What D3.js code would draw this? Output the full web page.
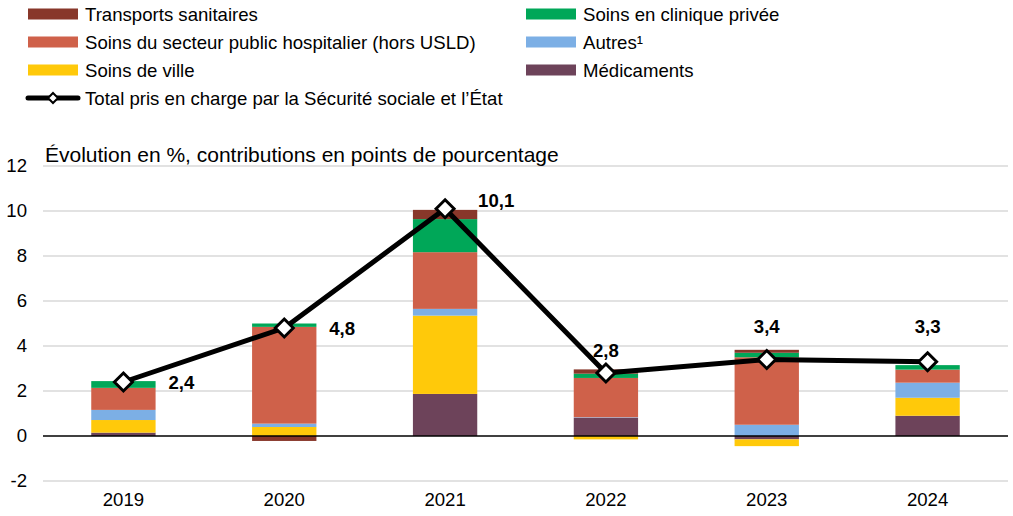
<!DOCTYPE html>
<html>
<head>
<meta charset="utf-8">
<script src="https://cdn.jsdelivr.net/npm/d3@7"></script>
<style>
  body { margin: 0; background: #fff; }
  text { font-family: "Liberation Sans", Arial, sans-serif; fill: #000; }
</style>
</head>
<body>
<svg id="chart" width="1013" height="516"></svg>
<script>
// data (contributions in percentage points)
const years = ['2019', '2020', '2021', '2022', '2023', '2024'];
const medicaments = [0.15, 0, 1.87, 0.8, -0.15, 0.9];
const soinsVille = [0.56, 0.4, 3.48, -0.15, -0.3, 0.8];
const autres = [0.45, 0.15, 0.3, 0.03, 0.5, 0.67];
const secteurPublic = [0.98, 4.3, 2.52, 1.75, 3.0, 0.58];
const clinique = [0.3, 0.15, 1.47, 0.19, 0.2, 0.2];
const transports = [0, -0.22, 0.41, 0.19, 0.13, 0];
const total = [2.4, 4.8, 10.1, 2.8, 3.4, 3.3];
const yTicks = [-2, 0, 2, 4, 6, 8, 10, 12];

// series in stacking order (bottom to top)
const series = [
  {key: 'med', name: 'Médicaments', color: '#6d435a', values: medicaments},
  {key: 'ville', name: 'Soins de ville', color: '#ffc90a', values: soinsVille},
  {key: 'autres', name: 'Autres¹', color: '#7cafe5', values: autres},
  {key: 'public', name: 'Soins du secteur public hospitalier (hors USLD)', color: '#cf614a', values: secteurPublic},
  {key: 'clinique', name: 'Soins en clinique privée', color: '#00a758', values: clinique},
  {key: 'transports', name: 'Transports sanitaires', color: '#88372a', values: transports}
];

// legend layout (reading order, two columns)
const legendOrder = ['transports', 'clinique', 'public', 'autres', 'ville', 'med'];
// where each total label sits relative to its point
const labelOffsets = [[45, 0], [45, 0], [33, -8], [0, -23], [0, -33], [0, -35]];

const svg = d3.select('#chart');
const margin = {left: 43, right: 5, top: 166, bottom: 35};
const width = 1013, height = 516;
const fontSize = '18.6px';

const table = years.map((y, i) => {
  const row = {year: y};
  series.forEach(s => row[s.key] = s.values[i]);
  return row;
});

const stack = d3.stack()
    .keys(series.map(s => s.key))
    .offset(d3.stackOffsetDiverging);
const stacked = stack(table);

const xScale = d3.scaleBand()
    .domain(years)
    .range([margin.left, width - margin.right])
    .paddingInner(0.6)
    .paddingOuter(0.3);

const yScale = d3.scaleLinear()
    .domain([-2, 12])
    .range([481, 166]);

// gridlines
svg.append('g')
  .selectAll('line')
  .data(yTicks.filter(d => d !== 0))
  .join('line')
    .attr('x1', margin.left)
    .attr('x2', width - margin.right)
    .attr('y1', d => yScale(d))
    .attr('y2', d => yScale(d))
    .attr('stroke', '#d9d9d9')
    .attr('stroke-width', 1.5);

// y axis labels
const yAxis = d3.axisLeft(yScale).tickValues(yTicks).tickSize(0).tickPadding(0)
    .tickFormat(d => d < 0 ? '-' + Math.abs(d) : d);
const yAxisG = svg.append('g')
    .attr('transform', 'translate(27,0)')
    .call(yAxis);
yAxisG.select('.domain').remove();
yAxisG.selectAll('text')
    .style('font-size', fontSize)
    .attr('fill', '#000');

// x axis labels
const xAxis = d3.axisBottom(xScale).tickSize(0).tickPadding(0);
const xAxisG = svg.append('g')
    .attr('transform', 'translate(0,493)')
    .call(xAxis);
xAxisG.select('.domain').remove();
xAxisG.selectAll('text')
    .style('font-size', fontSize)
    .attr('fill', '#000');

// stacked bars
svg.append('g')
  .selectAll('g')
  .data(stacked)
  .join('g')
    .attr('fill', d => series.find(s => s.key === d.key).color)
  .selectAll('rect')
  .data(d => d)
  .join('rect')
    .attr('x', d => xScale(d.data.year))
    .attr('width', xScale.bandwidth())
    .attr('y', d => yScale(Math.max(d[0], d[1])))
    .attr('height', d => Math.abs(yScale(d[0]) - yScale(d[1])));

// zero line
svg.append('line')
    .attr('x1', margin.left)
    .attr('x2', width - margin.right)
    .attr('y1', yScale(0))
    .attr('y2', yScale(0))
    .attr('stroke', '#000')
    .attr('stroke-width', 1.5);

// total line
const cx = y => xScale(y) + xScale.bandwidth() / 2;
const line = d3.line()
    .x((d, i) => cx(years[i]))
    .y(d => yScale(d));

svg.append('path')
    .datum(total)
    .attr('d', line)
    .attr('fill', 'none')
    .attr('stroke', '#000')
    .attr('stroke-width', 5)
    .attr('stroke-linejoin', 'round');

const diamond = r => `M0,${-r}L${r},0L0,${r}L${-r},0Z`;

svg.append('g')
  .selectAll('path')
  .data(total)
  .join('path')
    .attr('d', diamond(9))
    .attr('transform', (d, i) => `translate(${cx(years[i])},${yScale(d)})`)
    .attr('fill', '#fff')
    .attr('stroke', '#000')
    .attr('stroke-width', 3);

svg.append('g')
  .selectAll('text')
  .data(total)
  .join('text')
    .attr('x', (d, i) => cx(years[i]) + labelOffsets[i][0])
    .attr('y', (d, i) => yScale(d) + labelOffsets[i][1])
    .attr('dy', '0.35em')
    .attr('text-anchor', (d, i) => labelOffsets[i][0] === 0 ? 'middle' : 'start')
    .style('font-size', fontSize)
    .style('font-weight', 'bold')
    .text(d => d3.format('.1f')(d).replace('.', ','));

// subtitle (slightly larger than the rest in the original)
svg.append('text')
    .attr('x', 45)
    .attr('y', 162)
    .style('font-size', '21px')
    .text('Évolution en %, contributions en points de pourcentage');

// legend
const legend = svg.append('g');
legendOrder.forEach((k, i) => {
  const s = series.find(d => d.key === k);
  const lx = (i % 2 === 0) ? 28 : 526;
  const ly = 14 + Math.floor(i / 2) * 28;
  legend.append('rect')
      .attr('x', lx)
      .attr('y', ly - 5.5)
      .attr('width', 50)
      .attr('height', 11)
      .attr('fill', s.color);
  legend.append('text')
      .attr('x', lx + 57)
      .attr('y', ly)
      .attr('dy', '0.35em')
      .style('font-size', fontSize)
      .text(s.name);
});

const lineY = 14 + 3 * 28;
legend.append('line')
    .attr('x1', 28).attr('x2', 78)
    .attr('y1', lineY).attr('y2', lineY)
    .attr('stroke', '#000')
    .attr('stroke-width', 5)
    .attr('stroke-linecap', 'round');
legend.append('path')
    .attr('d', diamond(5))
    .attr('transform', `translate(53,${lineY})`)
    .attr('fill', '#fff')
    .attr('stroke', '#000')
    .attr('stroke-width', 2);
legend.append('text')
    .attr('x', 85)
    .attr('y', lineY)
    .attr('dy', '0.35em')
    .style('font-size', fontSize)
    .text('Total pris en charge par la Sécurité sociale et l’État');
</script>
</body>
</html>
